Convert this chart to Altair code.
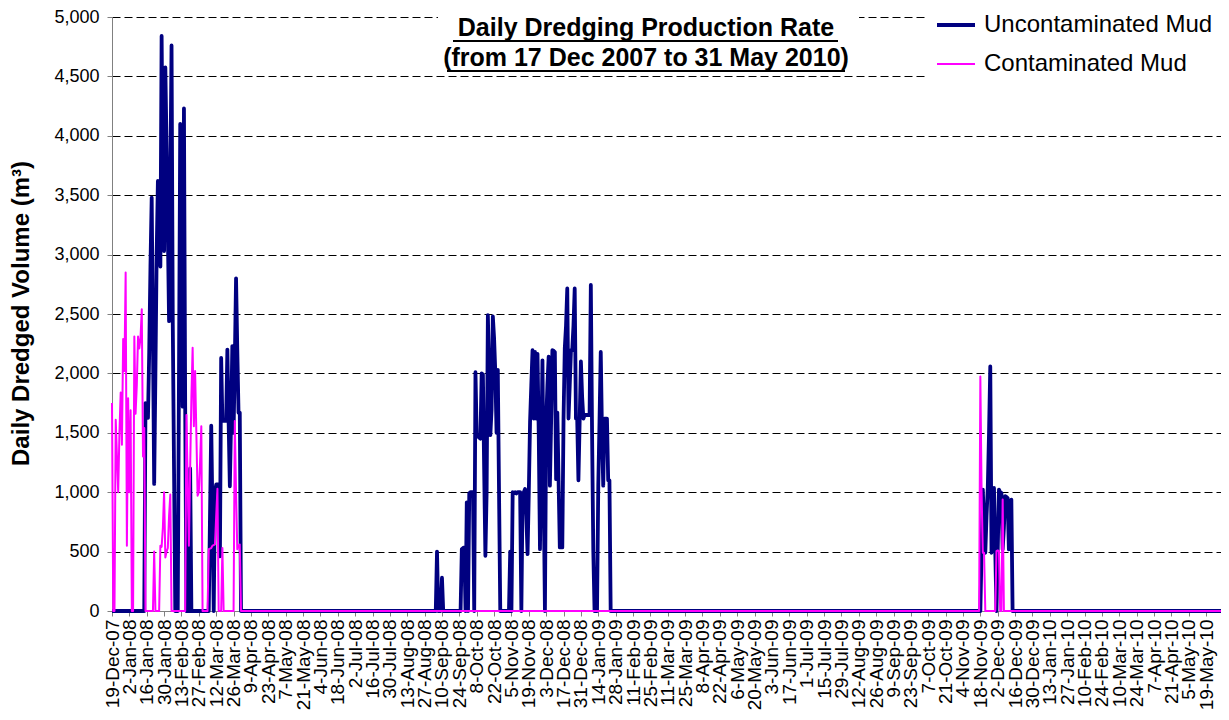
import altair as alt
import pandas as pd

# ---------------- data (daily values) ----------------
axis_start = "2007-12-19"
axis_end = "2010-05-31"

# Uncontaminated mud, three dredging campaigns (m3/day), each list starts at its date
unc_start_1 = "2008-01-15"
unc_vals_1 = [1750, 1700, 1625, 2180, 2900, 3480, 2300, 1070, 2000, 3000, 3620, 3250,
              2900, 4840, 3550, 3030, 4575, 3900, 3200, 2440, 3600, 4760, 2410, 1200,
              0, 0, 0, 2000, 4100, 3000, 1720, 4230, 1720, 0, 0, 0, 1200, 0,
              0, 0, 0, 0, 0, 0, 0, 0, 0, 0, 0, 0, 0, 0, 800, 1560, 800, 0,
              1000, 1065, 1065, 1065, 460, 2130, 1600, 1600, 1600, 1600, 2200, 1600,
              1050, 1600, 2230, 1500, 2100, 2800, 2200, 1670, 1670]

unc_start_2 = "2008-09-06"
unc_vals_2 = [500, 0, 0, 0, 280, 0, 0, 0, 0, 0, 0, 0, 0, 0, 0, 0, 0, 0, 0, 0,
              520, 530, 535, 0, 915, 0, 990, 1000, 1000, 1000, 0, 2010, 1480, 1470,
              1460, 1450, 2000, 1990, 1200, 465, 1000, 2490, 2000, 1480, 1700, 2480,
              2300, 2010, 1500, 2030, 1000, 0, 0, 0, 0, 0, 0, 0, 0,
              500, 0, 1000, 990, 1000, 990, 1000, 1000, 1000, 0, 990, 1000, 1027, 800,
              478, 1000, 1590, 1900, 2195, 1620, 2180, 1620, 2165, 1500, 520, 1300, 2110,
              1000, 0, 1590, 1900, 2140, 1055, 1600, 2195, 2190, 2180, 1110, 1670,
              1100, 535, 535, 535, 1620, 2210, 2400, 2715, 1620, 1900, 2195, 2195,
              2400, 2715, 1620, 1620, 1100, 1600, 2100, 1800, 1620, 1650, 1650, 1650,
              1650, 1650, 2745, 1500, 500, 0, 0, 0, 1055, 1600, 2180, 1500, 1055,
              1620, 1620, 1620, 1100, 1100]

unc_start_3 = "2009-11-18"
unc_vals_3 = [0, 500, 1022, 700, 490, 800, 1036, 1500, 2058, 490, 800, 1036, 518, 0,
              500, 1022, 1000, 994, 518, 700, 966, 960, 950, 518, 700, 938]

# Contaminated mud (m3/day)
con_start_1 = "2007-12-19"
con_vals_1 = [1750, 0, 0, 1610, 1300, 1000, 1500, 1840, 1400, 2290, 2020, 2850, 550,
              1790, 1000, 1690, 0, 0, 2310, 1660, 1900, 2310, 2210, 2300, 2540, 1300,
              1540, 0, 0, 0, 0, 0, 0, 0, 500, 0, 0, 0, 0, 550, 540, 700, 1000, 450,
              500, 530, 800, 980, 0, 0, 0, 0, 0, 0, 0, 0, 0, 0, 0, 0, 1650, 1100,
              550, 1200, 1800, 2215, 1555, 2020, 1500, 970, 1000, 1250, 1555, 0, 0,
              0, 0, 0, 520, 525, 530, 550, 555, 560, 800, 1030, 0, 0, 0, 530, 0, 0,
              0, 0, 0, 0, 0, 0, 0, 1600, 1000, 520, 550, 560]

con_start_3 = "2009-11-17"
con_vals_3 = [0, 1974, 1000, 490, 490, 0, 0, 0, 0, 0, 0, 0, 0, 0, 504, 510, 504, 0,
              0, 938]

series_names = ["Uncontaminated Mud", "Contaminated Mud"]
series_colors = ["#000080", "#FF00FF"]
series_widths = [3.8, 2.0]

y_ticks = [0, 500, 1000, 1500, 2000, 2500, 3000, 3500, 4000, 4500, 5000]
title_lines = ["Daily Dredging Production Rate ", "(from 17 Dec 2007 to 31 May 2010)"]


# ---------------- build tables ----------------
days = pd.date_range(axis_start, axis_end, freq="D")


def daily_series(segments):
    s = pd.Series(0.0, index=days)
    for start, vals in segments:
        idx = pd.date_range(start, periods=len(vals), freq="D")
        s.loc[idx] = vals
    return s


unc = daily_series([(unc_start_1, unc_vals_1), (unc_start_2, unc_vals_2),
                    (unc_start_3, unc_vals_3)])
con = daily_series([(con_start_1, con_vals_1), (con_start_3, con_vals_3)])

df_unc = pd.DataFrame({"date": days.strftime("%Y-%m-%dT00:00:00"), "value": unc.values,
                       "series": series_names[0]})
df_con = pd.DataFrame({"date": days.strftime("%Y-%m-%dT00:00:00"), "value": con.values,
                       "series": series_names[1]})

tick_dates = pd.date_range(axis_start, axis_end, freq="14D")
tick_values = [alt.DateTime(year=d.year, month=d.month, date=d.day) for d in tick_dates]

FONT = "Liberation Sans"

x_enc = alt.X(
    "date:T",
    scale=alt.Scale(domain=[alt.DateTime(year=2007, month=12, date=19),
                            alt.DateTime(year=2010, month=5, date=31)]),
    axis=alt.Axis(values=tick_values, format="%-d-%b-%y", labelAngle=270,
                  labelFont=FONT, labelFontSize=19, labelColor="black",
                  labelAlign="right", labelBaseline="middle", labelPadding=3,
                  tickSize=5, tickColor="#808080", domainColor="#808080",
                  grid=False, title=None, labelOverlap=False, labelFlush=False),
)
y_enc = alt.Y(
    "value:Q",
    scale=alt.Scale(domain=[0, 5000], nice=False),
    axis=alt.Axis(values=y_ticks, format=",d", labelFont=FONT, labelFontSize=18,
                  labelColor="black", labelPadding=8, tickSize=5, tickColor="#808080",
                  domainColor="#808080", grid=True, gridColor="black",
                  gridDash=[8, 4], gridWidth=1,
                  title="Daily Dredged Volume (m³)", titleFont=FONT, titleFontSize=24,
                  titleFontWeight="bold", titleColor="black", titleAngle=270,
                  titleX=-91, titleY=296, titleAlign="center", titleBaseline="middle"),
)
color_enc = alt.Color(
    "series:N",
    scale=alt.Scale(domain=series_names, range=series_colors),
    legend=alt.Legend(title=None, orient="none", legendX=814, legendY=-22,
                      labelFont=FONT, labelFontSize=24, labelColor="black",
                      symbolType="stroke", symbolSize=1444, symbolStrokeWidth=3,
                      labelOffset=7, rowPadding=7, fillColor="white", padding=9,
                      labelLimit=400),
)
width_enc = alt.StrokeWidth(
    "series:N",
    scale=alt.Scale(domain=series_names, range=series_widths),
    legend=None,
)

line_unc = alt.Chart(df_unc).mark_line(interpolate="linear", strokeJoin="round").encode(
    x=x_enc, y=y_enc, color=color_enc, strokeWidth=width_enc)
line_con = alt.Chart(df_con).mark_line(interpolate="linear", strokeJoin="round").encode(
    x=x_enc, y=y_enc, color=color_enc, strokeWidth=width_enc)

# title box (white background), title text and underline
one = pd.DataFrame({"k": [0]})
title_box = alt.Chart(one).mark_rect(color="white").encode(
    x=alt.value(326), x2=alt.value(747), y=alt.value(-17), y2=alt.value(57))
title_df = pd.DataFrame({"text": title_lines, "row": [0, 1]})
title_text = alt.Chart(title_df).mark_text(
    font=FONT, fontSize=25, fontWeight="bold", color="black", align="center",
    baseline="middle").encode(
    text="text:N", x=alt.value(534), y=alt.value(11)).transform_filter("datum.row == 0")
title_text2 = alt.Chart(title_df).mark_text(
    font=FONT, fontSize=25, fontWeight="bold", color="black", align="center",
    baseline="middle").encode(
    text="text:N", x=alt.value(534), y=alt.value(41)).transform_filter("datum.row == 1")
ul1 = alt.Chart(one).mark_rule(color="black", strokeWidth=2).encode(
    x=alt.value(341), x2=alt.value(726), y=alt.value(24))
ul2 = alt.Chart(one).mark_rule(color="black", strokeWidth=2).encode(
    x=alt.value(335), x2=alt.value(733), y=alt.value(54))

chart = alt.layer(title_box, line_unc, line_con, title_text, title_text2, ul1, ul2).resolve_scale(
    color="shared", strokeWidth="shared"
).properties(
    width=1109, height=594,
    padding={"left": 104, "top": 9, "right": 0, "bottom": 101},
    autosize=alt.AutoSizeParams(type="none"),
    background="white",
).configure_view(stroke=None).configure_axis(domainWidth=1)

chart.save("out.html", embed_options={"renderer": "svg", "actions": False})
